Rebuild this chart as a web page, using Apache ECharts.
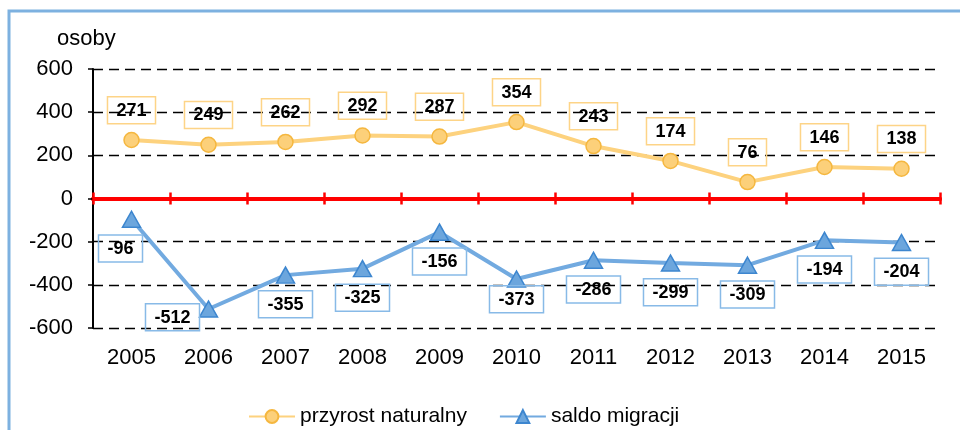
<!DOCTYPE html>
<html>
<head>
<meta charset="utf-8">
<script src="https://cdn.jsdelivr.net/npm/echarts@6/dist/echarts.min.js"></script>
<style>
  html, body { margin: 0; padding: 0; background: #fff; }
  #chart { width: 960px; height: 430px; }
</style>
</head>
<body>
<div id="chart"></div>
<script>
const years = ["2005", "2006", "2007", "2008", "2009", "2010", "2011", "2012", "2013", "2014", "2015"];
const przyrost = [271, 249, 262, 292, 287, 354, 243, 174, 76, 146, 138];
const saldo = [-96, -512, -355, -325, -156, -373, -286, -299, -309, -194, -204];
const yTicks = { min: -600, max: 600, step: 200 };

// a few labels in the original sit off their usual spot
const saldoShift = { 0: [-11, 0], 1: [-36, -21], 5: [0, -9] };

const font = "Liberation Sans, Arial, sans-serif";

const chart = echarts.init(document.getElementById("chart"));

const labelBox = (border) => ({
  show: true,
  color: "#000",
  fontFamily: font,
  fontSize: 18,
  fontWeight: "bold",
  borderColor: border,
  borderWidth: 1.5,
  padding: [5, 9, 4, 9]
});

// red zero line: ticks up from one grid, ticks down from an identical overlay grid
const zeroAxis = (pos, gridIndex) => ({
  type: "category",
  gridIndex: gridIndex,
  data: years,
  position: pos,
  axisLine: { onZero: true, onZeroAxisIndex: gridIndex, lineStyle: { color: "#FF0000", width: 4 } },
  axisTick: { show: true, length: 6, lineStyle: { color: "#FF0000", width: 2.5 } },
  axisLabel: { show: false },
  splitLine: { show: false }
});

const gridBox = { left: 93, right: 20, top: 69, bottom: 102, containLabel: false, outerBoundsMode: "none" };

chart.setOption({
  animation: false,
  graphic: [
    {
      type: "rect",
      shape: { x: 9, y: 11, width: 1000, height: 500 },
      style: { fill: "none", stroke: "#7DB1E0", lineWidth: 3 },
      silent: true
    },
    {
      type: "text",
      left: 57,
      top: 28,
      style: { text: "osoby", font: "22px " + font, fill: "#000" }
    }
  ],
  grid: [Object.assign({}, gridBox), Object.assign({}, gridBox)],
  legend: {
    left: 243,
    top: 401,
    itemWidth: 46,
    itemHeight: 16,
    itemGap: 32,
    textStyle: { fontFamily: font, fontSize: 21, color: "#000" },
    data: ["przyrost naturalny", "saldo migracji"]
  },
  xAxis: [
    {
      type: "category",
      gridIndex: 0,
      data: years,
      position: "bottom",
      axisLine: { show: false, onZero: false },
      axisTick: { show: false },
      axisLabel: { margin: 19, fontFamily: font, fontSize: 22, color: "#000" },
      splitLine: { show: false }
    },
    zeroAxis("top", 0),
    zeroAxis("bottom", 1)
  ],
  yAxis: [
    {
      type: "value",
      gridIndex: 0,
      min: yTicks.min,
      max: yTicks.max,
      interval: yTicks.step,
      axisLine: { show: true, lineStyle: { color: "#000", width: 2 } },
      axisTick: { show: true, length: 5, lineStyle: { color: "#000", width: 1.5 } },
      axisLabel: { margin: 20, fontFamily: font, fontSize: 22, color: "#000" },
      splitLine: { show: true, lineStyle: { color: "#000", width: 1.3, type: [10, 6] } }
    },
    {
      type: "value",
      gridIndex: 1,
      min: yTicks.min,
      max: yTicks.max,
      interval: yTicks.step,
      axisLine: { show: false },
      axisTick: { show: false },
      axisLabel: { show: false },
      splitLine: { show: false }
    }
  ],
  series: [
    {
      name: "przyrost naturalny",
      type: "line",
      data: przyrost,
      symbol: "circle",
      symbolSize: 15,
      z: 3,
      lineStyle: { color: "#FDD27E", width: 4 },
      itemStyle: { color: "#FCD07A", borderColor: "#F5B73F", borderWidth: 1.5 },
      label: Object.assign(labelBox("#FDD487"), { position: "top", distance: 8 })
    },
    {
      name: "saldo migracji",
      type: "line",
      data: saldo.map((v, i) => saldoShift[i]
        ? { value: v, label: { offset: saldoShift[i] } }
        : v),
      symbol: "triangle",
      symbolSize: [18, 16],
      z: 3,
      lineStyle: { color: "#72AAE0", width: 4 },
      itemStyle: { color: "#6CA6DD", borderColor: "#3D86CF", borderWidth: 1.5 },
      label: Object.assign(labelBox("#88BAE7"), { position: "bottom", distance: 7 })
    }
  ]
});
</script>
</body>
</html>
